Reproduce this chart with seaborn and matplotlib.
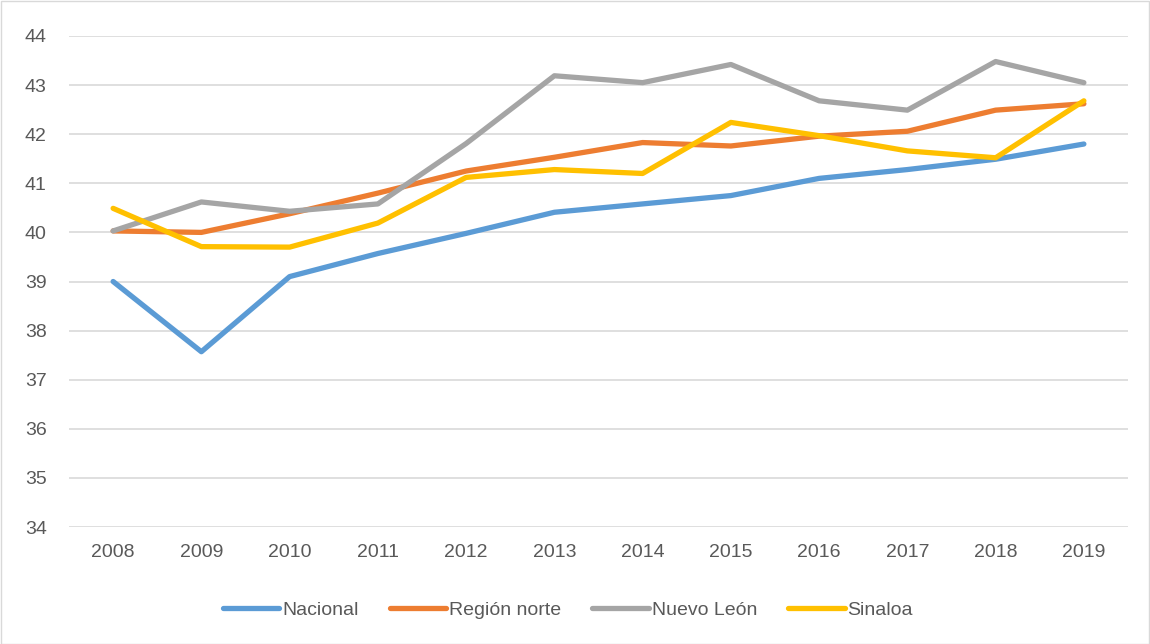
import matplotlib
matplotlib.use("Agg")
import matplotlib.pyplot as plt
import seaborn as sns
import pandas as pd
from matplotlib.patches import Rectangle
from matplotlib.lines import Line2D

years = ["2008", "2009", "2010", "2011", "2012", "2013", "2014", "2015", "2016", "2017", "2018", "2019"]
nacional = [39.0, 37.57, 39.1, 39.57, 39.98, 40.41, 40.58, 40.75, 41.1, 41.28, 41.49, 41.8]
region_norte = [40.03, 40.0, 40.38, 40.8, 41.25, 41.53, 41.83, 41.76, 41.96, 42.06, 42.49, 42.62]
nuevo_leon = [40.03, 40.62, 40.43, 40.58, 41.81, 43.19, 43.05, 43.42, 42.68, 42.49, 43.48, 43.05]
sinaloa = [40.49, 39.71, 39.7, 40.19, 41.12, 41.28, 41.2, 42.24, 41.97, 41.66, 41.52, 42.68]

series_names = ["Nacional", "Región norte", "Nuevo León", "Sinaloa"]
series_values = [nacional, region_norte, nuevo_leon, sinaloa]
colors = ["#5B9BD5", "#ED7D31", "#A5A5A5", "#FFC000"]

rows = []
for name, vals in zip(series_names, series_values):
    for i, (y, v) in enumerate(zip(years, vals)):
        rows.append({"idx": i, "year": y, "serie": name, "valor": v})
df = pd.DataFrame(rows)

sns.set_theme(style="white")
plt.rcParams["font.family"] = ["Liberation Sans", "DejaVu Sans"]

fig = plt.figure(figsize=(11.5, 6.44), dpi=100)
ax = fig.add_axes([69 / 1150, 1 - 527 / 644, (1128 - 69) / 1150, (527 - 36) / 644])

for y in range(34, 45):
    ax.axhline(y, color="#D9D9D9", lw=1.2, zorder=0)

sns.lineplot(data=df, x="idx", y="valor", hue="serie", hue_order=series_names,
             palette=colors, linewidth=3.8, ax=ax, legend=False, sort=False)

ax.set_xlim(-0.5, len(years) - 0.5)
ax.set_ylim(34, 44)
ax.set_yticks(range(34, 45))
ax.set_xticks(range(len(years)))
ax.set_xticklabels(years)
ax.tick_params(axis="both", length=0, labelsize=14, labelcolor="#595959")
ax.tick_params(axis="y", pad=16)
ax.tick_params(axis="x", pad=12)
ax.set_xlabel("")
ax.set_ylabel("")
for s in ax.spines.values():
    s.set_visible(False)

handles = [Line2D([0], [0], color=c, lw=3.8) for c in colors]
fig.legend(handles, series_names, loc="center", bbox_to_anchor=(568 / 1150, 1 - 610 / 644),
           ncol=4, frameon=False, fontsize=14, handlelength=2.9, handletextpad=0.15,
           columnspacing=1.6, labelcolor="#595959")

fig.patches.append(Rectangle((0.5 / 1150, 0.5 / 644), 1 - 1.5 / 1150, 1 - 1.5 / 644,
                             transform=fig.transFigure, fill=False, edgecolor="#D9D9D9", lw=1.0))

fig.savefig("out.png", dpi=100, facecolor="white")
